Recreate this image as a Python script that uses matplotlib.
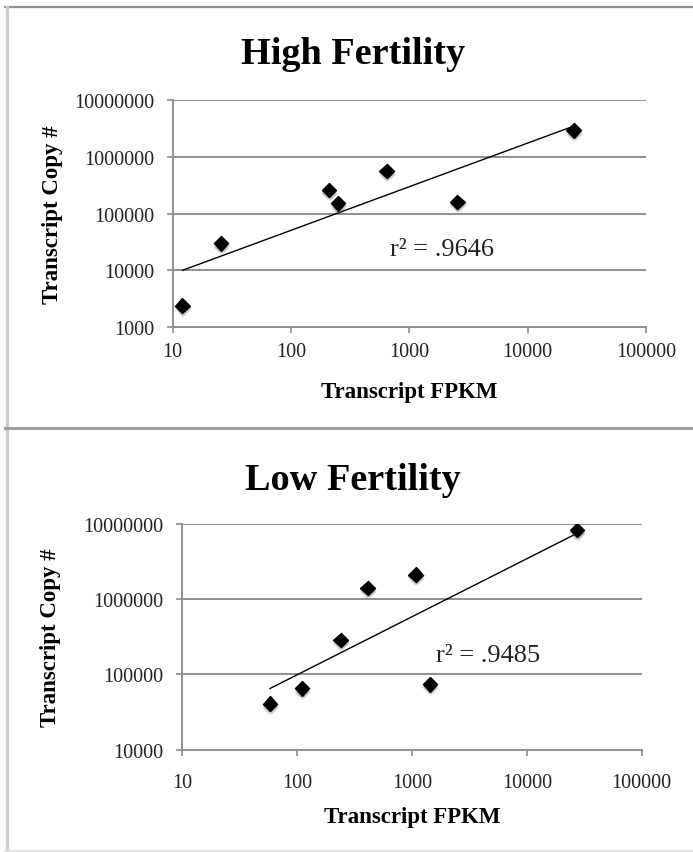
import numpy as np
import matplotlib
matplotlib.use('Agg')
import matplotlib.pyplot as plt
import matplotlib.patheffects as pe
from matplotlib.lines import Line2D
from matplotlib.ticker import FixedLocator, FuncFormatter

plt.rcParams['font.family'] = ['Liberation Serif', 'DejaVu Serif']

# High fertility samples
high_fpkm = [12.1, 25.6, 209, 250, 644, 2550, 24500]
high_copies = [2400, 29800, 259000, 150000, 558000, 160000, 2890000]
high_r2 = '.9646'

# Low fertility samples
low_fpkm = [58, 110, 239, 411, 1076, 1435, 27400]
low_copies = [40800, 65300, 289000, 1420000, 2130000, 74000, 8280000]
low_r2 = '.9485'

x_ticks = [10, 100, 1000, 10000, 100000]
high_y_ticks = [1000, 10000, 100000, 1000000, 10000000]
low_y_ticks = [10000, 100000, 1000000, 10000000]

W, H = 693, 853
fig = plt.figure(figsize=(W / 100, H / 100), dpi=100)
fig.patch.set_facecolor('white')

grid_col = '#8e8e8e'
shadow = [pe.SimplePatchShadow(offset=(o[0], o[1]), shadow_rgbFace='#555555', alpha=0.18)
          for o in [(0.5, -1.0), (1.5, -2.0), (-0.5, -2.0), (0.5, -3.0)]] + [pe.Normal()]


def panel(rect, xs, ys, yticks, r2, r2pos, ylab_x, xlab_y, ypad, xpad):
    ax = fig.add_axes(rect)
    ax.set_xscale('log')
    ax.set_yscale('log')
    ax.set_xlim(x_ticks[0], x_ticks[-1])
    ax.set_ylim(yticks[0], yticks[-1])

    # power trendline (linear fit in log-log space)
    lx, ly = np.log10(xs), np.log10(ys)
    k, b = np.polyfit(lx, ly, 1)
    tx = np.array([min(xs), max(xs)])
    ax.plot(tx, 10 ** (k * np.log10(tx) + b), color='black', lw=1.0, zorder=3)

    ax.plot(xs, ys, ls='none', marker='D', ms=7.4, color='black', zorder=4,
            path_effects=shadow)

    ax.xaxis.set_major_locator(FixedLocator(x_ticks))
    ax.yaxis.set_major_locator(FixedLocator(yticks))
    ax.xaxis.set_minor_locator(FixedLocator([]))
    ax.yaxis.set_minor_locator(FixedLocator([]))
    fmt = FuncFormatter(lambda v, p: '%d' % round(v))
    ax.xaxis.set_major_formatter(fmt)
    ax.yaxis.set_major_formatter(fmt)

    for y in yticks[1:]:
        ax.axhline(y, color=grid_col, lw=1.4, zorder=1)
    for s in ['top', 'right']:
        ax.spines[s].set_visible(False)
    for s in ['left', 'bottom']:
        ax.spines[s].set_color(grid_col)
        ax.spines[s].set_linewidth(1.4)
    ax.tick_params(axis='both', colors=grid_col, labelcolor='#222222',
                   labelsize=14.5, length=4, width=1.2)
    ax.tick_params(axis='y', pad=ypad)
    ax.tick_params(axis='x', pad=xpad)

    ax.set_ylabel('Transcript Copy #', fontsize=16.5, fontweight='bold', va='center')
    ax.yaxis.set_label_coords(ylab_x, 0.5)
    ax.set_xlabel('Transcript FPKM', fontsize=16.5, fontweight='bold', va='center')
    ax.xaxis.set_label_coords(0.5, xlab_y)

    ax.text(r2pos[0], r2pos[1], 'r\u00b2 = ' + r2, transform=ax.transAxes,
            fontsize=19, ha='left', va='center', color='#222222')
    return ax


panel([172.7 / W, 1 - 328.3 / H, (646 - 172.7) / W, (328.3 - 100.7) / H],
      high_fpkm, high_copies, high_y_ticks, high_r2, (0.459, 0.344),
      -0.253, -0.28, 9.5, 6.5)
panel([182.3 / W, 1 - 750.7 / H, (641.7 - 182.3) / W, (750.7 - 525) / H],
      low_fpkm, low_copies, low_y_ticks, low_r2, (0.552, 0.42),
      -0.286, -0.294, 9.5, 12.5)

fig.text(353 / W, 1 - 64 / H, 'High Fertility', fontsize=27.5, fontweight='bold',
         ha='center', va='baseline')
fig.text(353 / W, 1 - 490 / H, 'Low Fertility', fontsize=27.5, fontweight='bold',
         ha='center', va='baseline')

# panel frames
def fline(x0, y0, x1, y1, col, lw):
    fig.add_artist(Line2D([x0 / W, x1 / W], [1 - y0 / H, 1 - y1 / H],
                          transform=fig.transFigure, color=col, lw=lw))

fline(5, 7.5, W, 7.5, '#8f8f8f', 1.6)
fline(6.5, 7.5, 6.5, H, '#cccccc', 2.4)
fline(5, 428.5, W, 428.5, '#a0a0a0', 2.2)
fline(5, 851.5, W, 851.5, '#e0e0e0', 1.2)

fig.savefig('out.png', dpi=100)
